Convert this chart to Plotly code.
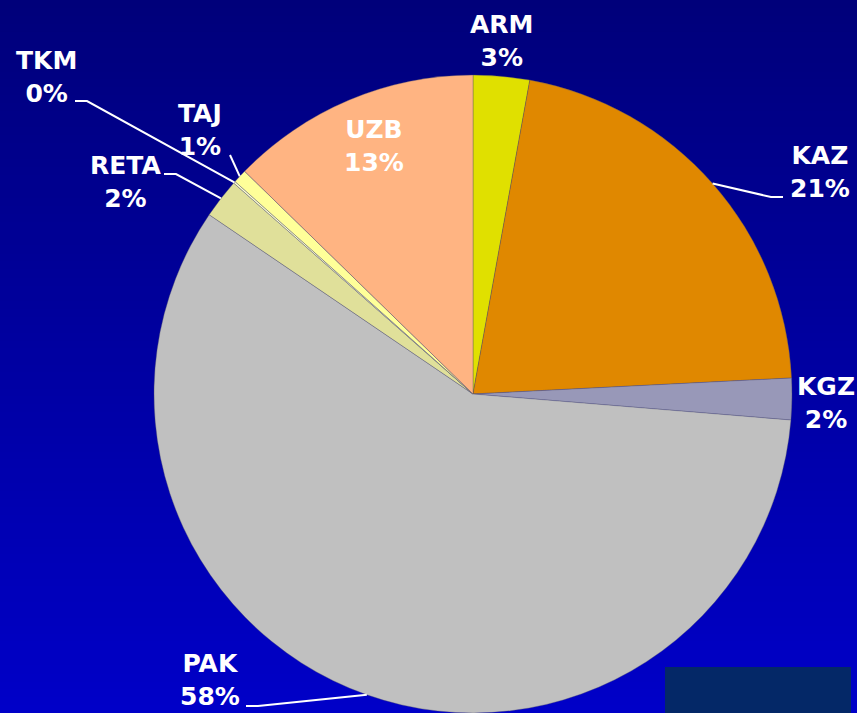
import math
import plotly.graph_objects as go

# ---- data ----
labels = ["ARM", "KAZ", "KGZ", "PAK", "RETA", "TKM", "TAJ", "UZB"]
values = [2.85, 21.35, 2.1, 58.2, 2.0, 0.1, 0.7, 12.7]
colors = ["#e0e000", "#e08800", "#9898b8", "#c0c0c0", "#e0e09a", "#ffffcc", "#ffff99", "#ffb482"]

W, H = 857, 713
# pie placement (pixels)
dom_x = [153, 793]
dom_y_top = 75
cx = (dom_x[0] + dom_x[1]) / 2
r = min(dom_x[1] - dom_x[0], H - dom_y_top) / 2
cy = H - r

def px(x):
    return x / W

def py(y):
    return 1 - y / H

fig = go.Figure()
fig.add_trace(go.Pie(
    labels=labels, values=values, sort=False, direction="clockwise", rotation=0,
    marker=dict(colors=colors, line=dict(color="rgba(80,80,110,0.6)", width=0.6)),
    textinfo="none", hoverinfo="label+percent", showlegend=False,
    domain=dict(x=[px(dom_x[0]), px(dom_x[1])], y=[0, py(dom_y_top)]),
))

# gradient background
shapes = []
N = 90
top = (0, 0, 0x7a)
bot = (0, 0, 0xc8)
for i in range(N):
    t = (i + 0.5) / N
    c = tuple(int(round(top[k] + (bot[k] - top[k]) * t)) for k in range(3))
    shapes.append(dict(type="rect", xref="paper", yref="paper", layer="below",
                       x0=0, x1=1, y0=1 - i / N, y1=1 - (i + 1) / N - 0.002,
                       fillcolor="rgb(%d,%d,%d)" % c, line=dict(width=0)))
shapes.append(dict(type="rect", xref="paper", yref="paper", layer="above",
                   x0=px(665), x1=px(851), y0=py(667), y1=0,
                   fillcolor="#042867", line=dict(width=0)))

# label layout (text block centre, leader start, elbow)
total = sum(values)
label_pos = {
    "ARM": (501, 41, None, None),
    "KAZ": (820, 172, (783, 197), (771, 197)),
    "KGZ": (826, 403, None, None),
    "PAK": (210, 680, (246, 706), (258, 706)),
    "RETA": (125, 182, (164, 174), (176, 174)),
    "TKM": (46, 77, (75, 101), (87, 101)),
    "TAJ": (200, 130, (230, 155), None),
    "UZB": (374, 146, None, None),
}

annotations = []
cum = 0.0
for lab, v in zip(labels, values):
    mid = (cum + v / 2) / total
    cum += v
    pct = round(v / total * 100)
    tx, ty, start, elbow = label_pos[lab]
    annotations.append(dict(
        x=px(tx), y=py(ty), xref="paper", yref="paper", showarrow=False,
        xanchor="center", yanchor="middle", align="center",
        text="<b>%s</b><br><b>%d%%</b>" % (lab, pct),
        font=dict(family="Tahoma, DejaVu Sans", size=25, color="white"),
    ))
    if start is not None:
        th = 2 * math.pi * mid
        ex = cx + r * math.sin(th)
        ey = cy - r * math.cos(th)
        pts = [start] + ([elbow] if elbow else []) + [(ex, ey)]
        path = "M " + " L ".join("%f,%f" % (px(a), py(b)) for a, b in pts)
        shapes.append(dict(type="path", xref="paper", yref="paper", path=path,
                           line=dict(color="white", width=2), layer="above"))

fig.update_layout(
    width=W, height=H, margin=dict(l=0, r=0, t=0, b=0),
    paper_bgcolor="#0000a0", plot_bgcolor="rgba(0,0,0,0)",
    shapes=shapes, annotations=annotations,
)
fig.write_html("out.html")
